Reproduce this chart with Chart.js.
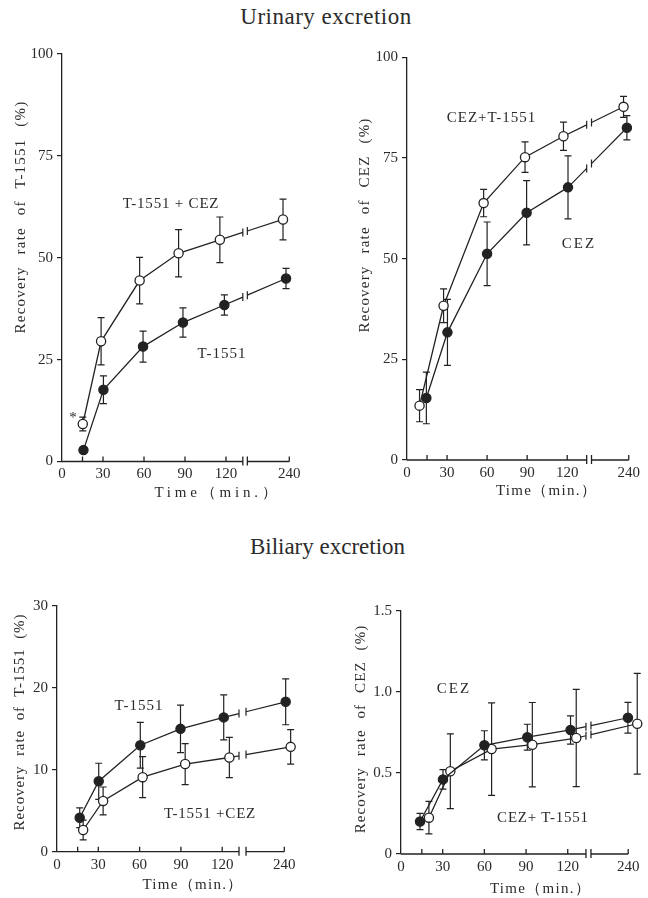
<!DOCTYPE html>
<html>
<head>
<meta charset="utf-8">
<script src="https://cdn.jsdelivr.net/npm/chart.js@4.4.1/dist/chart.umd.min.js"></script>
<style>
  body { margin: 0; background: #fff; }
  #page { position: relative; width: 648px; height: 898px; overflow: hidden;
          font-family: "Liberation Serif", "DejaVu Serif", serif; color: #2b2b2b; }
  #page canvas { position: absolute; }
  .txt { position: absolute; white-space: nowrap; line-height: 1; transform: translate(-50%, -50%); }
  .vert { transform: translate(-50%, -50%) rotate(-90deg); }
</style>
</head>
<body>
<div id="page"></div>
<script>
// ---- data (time in min, recovery in %) ----
const xTickLabels = [0, 30, 60, 90, 120, 240];
const xMinorTicks = [15];

// Urinary excretion, recovery of T-1551
const uriT1551Times    = [15.7, 30.3, 59.3, 88.5, 118.8, 237.6];
const uriT1551         = [2.8, 17.6, 28.2, 34.1, 38.4, 44.9];
const uriT1551Err      = [0, 3.4, 3.8, 3.6, 2.5, 2.5];
const uriT1551CezTimes = [15.2, 28.6, 56.8, 85.3, 115.5, 235.4];
const uriT1551Cez      = [9.2, 29.5, 44.4, 51.1, 54.4, 59.4];
const uriT1551CezErr   = [1.7, 5.8, 5.7, 5.8, 5.6, 5.0];

// Urinary excretion, recovery of CEZ
const uriCezTimes      = [14.5, 30.3, 60.0, 89.6, 120.6, 238.6];
const uriCez           = [15.4, 31.7, 51.2, 61.4, 67.7, 82.5];
const uriCezErr        = [6.4, 8.2, 7.9, 8.0, 7.8, 3.0];
const uriCezT1551Times = [9.4, 27.4, 57.4, 88.4, 117.2, 236.1];
const uriCezT1551      = [13.5, 38.3, 63.8, 75.2, 80.4, 87.7];
const uriCezT1551Err   = [4.0, 4.2, 3.4, 3.8, 3.5, 2.6];

// Biliary excretion, recovery of T-1551
const bilT1551Times    = [16.5, 30.3, 60.5, 89.7, 121.1, 241.0];
const bilT1551         = [4.15, 8.6, 13.0, 15.0, 16.4, 18.3];
const bilT1551Err      = [1.2, 2.2, 2.8, 2.9, 2.75, 2.8];
const bilT1551CezTimes = [19.0, 33.5, 62.2, 93.1, 125.2, 244.6];
const bilT1551Cez      = [2.65, 6.2, 9.1, 10.7, 11.5, 12.8];
const bilT1551CezErr   = [1.2, 1.7, 2.5, 2.5, 2.45, 2.1];

// Biliary excretion, recovery of CEZ
const bilCezTimes      = [13.7, 30.2, 60.0, 90.9, 122.0, 239.8];
const bilCez           = [0.20, 0.46, 0.67, 0.72, 0.765, 0.84];
const bilCezErr        = [0.05, 0.06, 0.09, 0.08, 0.087, 0.095];
const bilCezT1551Times = [20.1, 35.5, 65.2, 94.5, 126.1, 246.5];
const bilCezT1551      = [0.224, 0.51, 0.647, 0.674, 0.715, 0.803];
const bilCezT1551Err   = [0.10, 0.23, 0.285, 0.26, 0.30, 0.31];

// ---- drawing ----
const FONT = '"Liberation Serif", "DejaVu Serif", serif';
const INK = '#222';
const EXTRA = 10;   // room right of the 240 tick so the last points are not clipped
const page = document.getElementById('page');

// the axis is broken after 120 min; 240 min sits at virtual position p240
function posX(t, p240) {
    return t > 130 ? p240 + (t - 240) : t;
}

// error bars, broken line segment and broken x axis
const ejePlugin = {
    id: 'ejeRoto',
    beforeDatasetsDraw(chart, args, opts) {
        const ctx = chart.ctx;
        const xs = chart.scales.x, ys = chart.scales.y;
        const area = chart.chartArea;
        const b1 = xs.getPixelForValue(opts.breaks[0]);
        const b2 = xs.getPixelForValue(opts.breaks[1]);
        const xEnd = xs.getPixelForValue(opts.fin);
        ctx.save();
        ctx.strokeStyle = INK;
        ctx.lineWidth = 1.2;

        chart.data.datasets.forEach((ds, i) => {
            const meta = chart.getDatasetMeta(i);
            // error bars
            meta.data.forEach((pt, j) => {
                const e = ds.errores[j];
                if (!e) return;
                const yTop = ys.getPixelForValue(ds.data[j].y + e);
                const yBot = ys.getPixelForValue(ds.data[j].y - e);
                ctx.beginPath();
                ctx.moveTo(pt.x, yTop); ctx.lineTo(pt.x, yBot);
                ctx.moveTo(pt.x - 3.5, yTop); ctx.lineTo(pt.x + 3.5, yTop);
                ctx.moveTo(pt.x - 3.5, yBot); ctx.lineTo(pt.x + 3.5, yBot);
                ctx.stroke();
            });
            // last segment with the break mark
            const n = meta.data.length;
            const a = meta.data[n - 2], b = meta.data[n - 1];
            const yAt = x => a.y + (b.y - a.y) * (x - a.x) / (b.x - a.x);
            ctx.beginPath();
            ctx.moveTo(a.x, a.y); ctx.lineTo(b1, yAt(b1));
            ctx.moveTo(b2, yAt(b2)); ctx.lineTo(b.x, b.y);
            ctx.moveTo(b1, yAt(b1) - 4); ctx.lineTo(b1, yAt(b1) + 4);
            ctx.moveTo(b2, yAt(b2) - 4); ctx.lineTo(b2, yAt(b2) + 4);
            ctx.stroke();
        });

        // x axis with break
        const y0 = area.bottom;
        ctx.lineWidth = 1.3;
        ctx.beginPath();
        ctx.moveTo(area.left, y0); ctx.lineTo(b1, y0);
        ctx.moveTo(b2, y0); ctx.lineTo(xEnd, y0);
        ctx.moveTo(b1, y0 - 5); ctx.lineTo(b1, y0 + 4);
        ctx.moveTo(b2, y0 - 5); ctx.lineTo(b2, y0 + 4);
        // inward tick marks
        xs.ticks.forEach(t => {
            if (t.value === 0) return;
            const x = xs.getPixelForValue(t.value);
            ctx.moveTo(x, y0); ctx.lineTo(x, y0 - 5);
        });
        ctx.stroke();
        ctx.restore();
    }
};

function crearPanel(cfg) {
    const canvas = document.createElement('canvas');
    canvas.width = cfg.box.w;
    canvas.height = cfg.box.h;
    canvas.style.left = cfg.box.x + 'px';
    canvas.style.top = cfg.box.y + 'px';
    page.appendChild(canvas);

    const Y_W = 40, X_H = 24;
    const p240 = cfg.p240;
    const xMax = p240 + EXTRA;
    const right = cfg.area.left + (cfg.area.x240 - cfg.area.left) * xMax / p240;
    const tickValues = [0, ...xMinorTicks, ...xTickLabels.slice(1, -1), p240];

    const datasets = cfg.series.map(s => {
        const n = s.valores.length;
        return {
            data: s.tiempos.map((t, i) => ({ x: posX(t, p240), y: s.valores[i] })),
            errores: s.errores,
            borderColor: INK,
            borderWidth: 1.3,
            pointRadius: 4.6,
            pointBorderWidth: 1.3,
            pointBorderColor: INK,
            pointBackgroundColor: s.abierto ? '#fff' : INK,
            clip: false,
            segment: {
                borderColor: c => c.p1DataIndex === n - 1 ? 'rgba(0,0,0,0)' : undefined
            }
        };
    });

    return new Chart(canvas, {
        type: 'line',
        data: { datasets },
        options: {
            responsive: false,
            animation: false,
            events: [],
            layout: {
                padding: {
                    left: cfg.area.left - cfg.box.x - Y_W,
                    top: cfg.area.top - cfg.box.y,
                    right: cfg.box.x + cfg.box.w - right,
                    bottom: cfg.box.y + cfg.box.h - cfg.area.bottom - X_H
                }
            },
            plugins: {
                legend: { display: false },
                tooltip: { enabled: false },
                ejeRoto: { breaks: cfg.breaks, fin: p240 }
            },
            scales: {
                x: {
                    type: 'linear',
                    min: 0,
                    max: xMax,
                    afterFit: s => { s.height = X_H; },
                    afterBuildTicks: s => { s.ticks = tickValues.map(v => ({ value: v })); },
                    grid: { display: false, drawTicks: false },
                    border: { display: false },
                    ticks: {
                        autoSkip: false,
                        maxRotation: 0,
                        padding: 4,
                        color: '#2b2b2b',
                        font: { family: FONT, size: 15 },
                        callback: v => {
                            if (v === p240) return String(xTickLabels[xTickLabels.length - 1]);
                            return xTickLabels.includes(v) ? String(v) : '';
                        }
                    }
                },
                y: {
                    min: 0,
                    max: cfg.yMax,
                    afterFit: s => { s.width = Y_W; },
                    grid: { display: true, drawOnChartArea: false, drawTicks: true, tickLength: 5, color: INK, lineWidth: 1.2 },
                    border: { display: true, color: INK, width: 1.3 },
                    ticks: {
                        stepSize: cfg.yStep,
                        padding: 4,
                        color: '#2b2b2b',
                        font: { family: FONT, size: 15 },
                        callback: cfg.yFmt || (v => String(v))
                    }
                }
            }
        },
        plugins: [ejePlugin]
    });
}

crearPanel({
    box: { x: 0, y: 30, w: 324, h: 470 },
    area: { left: 62, x240: 289.3, top: 54, bottom: 461.5 },
    p240: 166.3, breaks: [132.3, 135.6], yMax: 100, yStep: 25,
    series: [
        { tiempos: uriT1551Times, valores: uriT1551, errores: uriT1551Err, abierto: false },
        { tiempos: uriT1551CezTimes, valores: uriT1551Cez, errores: uriT1551CezErr, abierto: true }
    ]
});

crearPanel({
    box: { x: 324, y: 30, w: 324, h: 470 },
    area: { left: 407, x240: 636.7, top: 57.3, bottom: 460 },
    p240: 166.1, breaks: [134.6, 138.2], yMax: 100, yStep: 25,
    series: [
        { tiempos: uriCezTimes, valores: uriCez, errores: uriCezErr, abierto: false },
        { tiempos: uriCezT1551Times, valores: uriCezT1551, errores: uriCezT1551Err, abierto: true }
    ]
});

crearPanel({
    box: { x: 0, y: 580, w: 324, h: 300 },
    area: { left: 57, x240: 284.3, top: 606, bottom: 851.7 },
    p240: 165.1, breaks: [132.2, 137.3], yMax: 30, yStep: 10,
    series: [
        { tiempos: bilT1551Times, valores: bilT1551, errores: bilT1551Err, abierto: false },
        { tiempos: bilT1551CezTimes, valores: bilT1551Cez, errores: bilT1551CezErr, abierto: true }
    ]
});

crearPanel({
    box: { x: 324, y: 580, w: 324, h: 300 },
    area: { left: 401, x240: 628.3, top: 610.7, bottom: 854 },
    p240: 163.5, breaks: [133.1, 136.7], yMax: 1.5, yStep: 0.5,
    yFmt: v => v === 0 ? '0' : v.toFixed(1),
    series: [
        { tiempos: bilCezTimes, valores: bilCez, errores: bilCezErr, abierto: false },
        { tiempos: bilCezT1551Times, valores: bilCezT1551, errores: bilCezT1551Err, abierto: true }
    ]
});

// ---- text (titles, axis titles, series labels) ----
const textos = [
    { t: 'Urinary excretion', x: 326, y: 16, size: 23, ls: 0.5 },
    { t: 'Biliary excretion', x: 327.5, y: 546, size: 23 },

    { t: 'Recovery rate of T-1551 (%)', x: 20, y: 216.5, size: 15, ls: 1.2, ws: 7, vert: true },
    { t: 'Recovery rate of CEZ (%)', x: 364, y: 225, size: 15, ls: 1.2, ws: 7, vert: true },
    { t: 'Recovery rate of T-1551 (%)', x: 18.5, y: 722, size: 15, ls: 0.9, ws: 5, vert: true },
    { t: 'Recovery rate of CEZ (%)', x: 360, y: 729, size: 15, ls: 1.1, ws: 6, vert: true },

    { t: 'Time（min.）', x: 217.5, y: 492, size: 15, ls: 3.8 },
    { t: 'Time（min.）', x: 546.5, y: 490, size: 15, ls: 1.3 },
    { t: 'Time（min.）', x: 193, y: 884, size: 15, ls: 1.3 },
    { t: 'Time（min.）', x: 540.5, y: 888, size: 15, ls: 1.3 },

    { t: 'T-1551 + CEZ', x: 171, y: 203, size: 15, ls: 0.8 },
    { t: 'T-1551', x: 222, y: 353, size: 15, ls: 1 },
    { t: '*', x: 73, y: 417, size: 15 },
    { t: 'CEZ+T-1551', x: 491.5, y: 117, size: 15, ls: 1 },
    { t: 'CEZ', x: 579, y: 243, size: 15, ls: 2 },
    { t: 'T-1551', x: 139, y: 705, size: 15, ls: 1 },
    { t: 'T-1551 +CEZ', x: 210, y: 813, size: 15, ls: 0.8 },
    { t: 'CEZ', x: 454, y: 688, size: 15, ls: 2 },
    { t: 'CEZ+ T-1551', x: 543, y: 817, size: 15, ls: 0.8 }
];

textos.forEach(o => {
    const d = document.createElement('div');
    d.className = o.vert ? 'txt vert' : 'txt';
    d.textContent = o.t;
    d.style.left = o.x + 'px';
    d.style.top = o.y + 'px';
    d.style.fontSize = o.size + 'px';
    if (o.ls) d.style.letterSpacing = o.ls + 'px';
    if (o.ws) d.style.wordSpacing = o.ws + 'px';
    page.appendChild(d);
});
</script>
</body>
</html>
